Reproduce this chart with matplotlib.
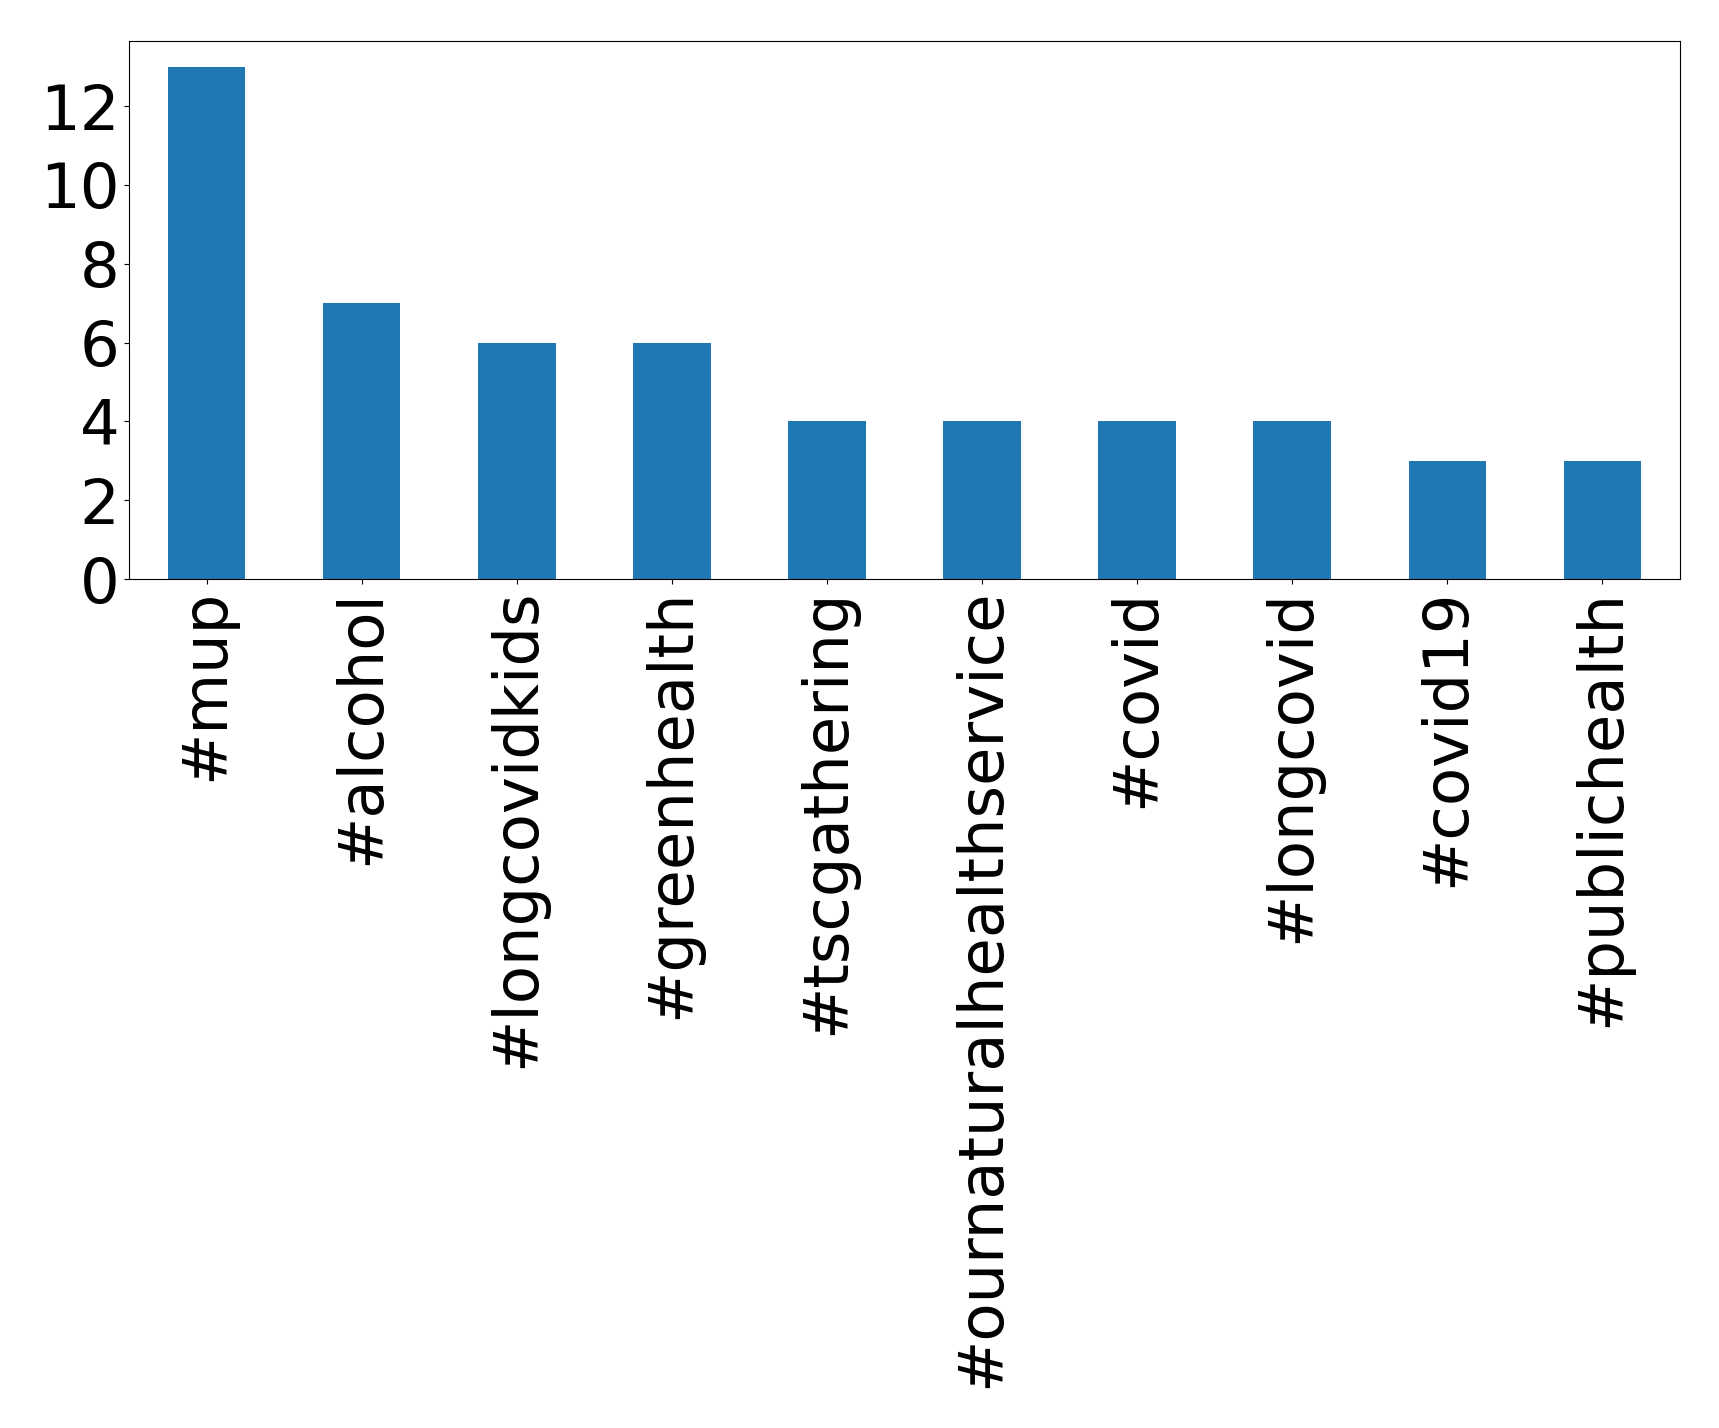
import pandas as pd
import matplotlib
matplotlib.use("Agg")
import matplotlib.pyplot as plt

# hashtag counts
tags = ["#mup", "#alcohol", "#longcovidkids", "#greenhealth", "#tscgathering",
        "#ournaturalhealthservice", "#covid", "#longcovid", "#covid19", "#publichealth"]
counts = [13, 7, 6, 6, 4, 4, 4, 4, 3, 3]

s = pd.Series(counts, index=tags)

fig = plt.figure(figsize=(17.19, 14.28), dpi=100)
ax = fig.add_axes([129 / 1719, 1 - 579 / 1428, (1680 - 129) / 1719, (579 - 41) / 1428])
s.plot(kind="bar", ax=ax, color="#1f77b4", fontsize=45)
ax.set_yticks(range(0, 13, 2))
ax.tick_params(axis="both", labelsize=45)

fig.savefig("out.png", dpi=100)
